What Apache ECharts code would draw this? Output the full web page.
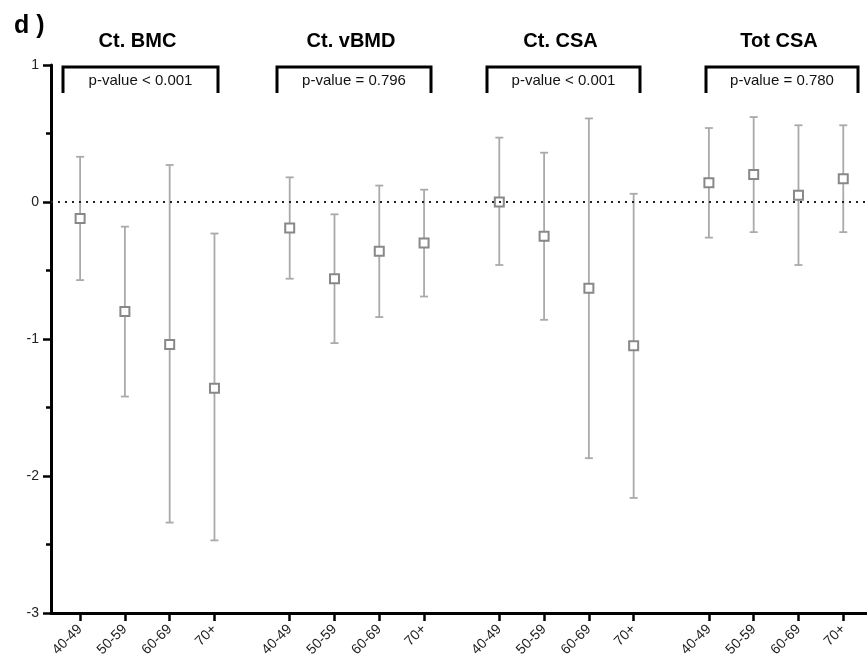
<!DOCTYPE html>
<html>
<head>
<meta charset="utf-8">
<script src="https://cdn.jsdelivr.net/npm/echarts@6/dist/echarts.min.js"></script>
<style>
  html, body { margin: 0; padding: 0; background: #fff; }
  #chart { width: 867px; height: 664px; }
</style>
</head>
<body>
<div id="chart"></div>
<script>
// 年龄组 / 指标
const ages = ["40-49", "50-59", "60-69", "70+"];
const groups = ["Ct. BMC", "Ct. vBMD", "Ct. CSA", "Tot CSA"];
const pValues = ["p-value < 0.001", "p-value = 0.796", "p-value < 0.001", "p-value = 0.780"];

// mean / lower / upper per group
const bmcMean = [-0.12, -0.80, -1.04, -1.36];
const bmcLow = [-0.57, -1.42, -2.34, -2.47];
const bmcHigh = [0.33, -0.18, 0.27, -0.23];

const vbmdMean = [-0.19, -0.56, -0.36, -0.30];
const vbmdLow = [-0.56, -1.03, -0.84, -0.69];
const vbmdHigh = [0.18, -0.09, 0.12, 0.09];

const csaMean = [0.0, -0.25, -0.63, -1.05];
const csaLow = [-0.46, -0.86, -1.87, -2.16];
const csaHigh = [0.47, 0.36, 0.61, 0.06];

const totMean = [0.14, 0.20, 0.05, 0.17];
const totLow = [-0.26, -0.22, -0.46, -0.22];
const totHigh = [0.54, 0.62, 0.56, 0.56];

const yTicks = [-3, -2, -1, 0, 1];

const means = [bmcMean, vbmdMean, csaMean, totMean];
const lows = [bmcLow, vbmdLow, csaLow, totLow];
const highs = [bmcHigh, vbmdHigh, csaHigh, totHigh];

const groupStep = 4.68;
const xPos = [];
const xLabel = {};
const pointData = [];
const barData = [];
groups.forEach(function (g, gi) {
  ages.forEach(function (a, ai) {
    var x = +(gi * groupStep + ai).toFixed(2);
    xPos.push(x);
    xLabel[x.toFixed(2)] = a;
    pointData.push([x, means[gi][ai]]);
    barData.push([x, lows[gi][ai], highs[gi][ai]]);
  });
});

var myChart = echarts.init(document.getElementById("chart"));

const font = "'Liberation Sans', Arial, sans-serif";

// 括号 + 标题
const bracketX = [[63, 218], [277, 431], [487, 640], [706, 858]];
const graphics = [
  {
    type: "text",
    left: 14,
    top: 14,
    style: { text: "d )", font: "bold 25px " + font, fill: "#000" },
  },
];
groups.forEach(function (g, i) {
  var l = bracketX[i][0], r = bracketX[i][1];
  var cx = (l + r) / 2;
  graphics.push({
    type: "polyline",
    shape: { points: [[l, 93], [l, 67], [r, 67], [r, 93]] },
    style: { stroke: "#000", lineWidth: 3, fill: null },
  });
  graphics.push({
    type: "text",
    x: cx - 3,
    y: 41,
    style: { text: g, font: "bold 20px " + font, fill: "#000", align: "center", verticalAlign: "middle" },
  });
  graphics.push({
    type: "text",
    x: cx,
    y: 81,
    style: { text: pValues[i], font: "15px " + font, fill: "#111", align: "center", verticalAlign: "middle" },
  });
});

var option = {
  animation: false,
  grid: { left: 51, right: 0, top: 65, bottom: 51 },
  graphic: graphics,
  xAxis: {
    type: "value",
    min: -0.65,
    max: 17.57,
    splitLine: { show: false },
    axisLine: { onZero: false, lineStyle: { color: "#000", width: 3 } },
    axisTick: { customValues: xPos, length: 8, lineStyle: { color: "#000", width: 2.5 } },
    axisLabel: {
      customValues: xPos,
      rotate: 45,
      margin: 14,
      color: "#222",
      fontSize: 14,
      fontFamily: font,
      formatter: function (v) {
        return xLabel[(+v).toFixed(2)] || "";
      },
    },
  },
  yAxis: {
    type: "value",
    min: -3,
    max: 1,
    interval: 1,
    splitLine: { show: false },
    axisLine: { show: true, onZero: false, lineStyle: { color: "#000", width: 3 } },
    axisTick: { show: true, length: 8, lineStyle: { color: "#000", width: 2.5 } },
    minorTick: { show: true, splitNumber: 2, length: 5, lineStyle: { color: "#000", width: 2.5 } },
    axisLabel: {
      color: "#222",
      fontSize: 14,
      fontFamily: font,
      margin: 12,
      formatter: function (v) {
        return yTicks.indexOf(v) >= 0 ? String(v) : "";
      },
    },
  },
  series: [
    {
      type: "custom",
      name: "error",
      data: barData,
      encode: { x: 0, y: [1, 2] },
      z: 2,
      renderItem: function (params, api) {
        var x = api.value(0);
        var top = api.coord([x, api.value(2)]);
        var bot = api.coord([x, api.value(1)]);
        var cap = 4;
        var st = { stroke: "#aaaaaa", lineWidth: 1.8 };
        return {
          type: "group",
          children: [
            { type: "line", shape: { x1: top[0], y1: top[1], x2: bot[0], y2: bot[1] }, style: st },
            { type: "line", shape: { x1: top[0] - cap, y1: top[1], x2: top[0] + cap, y2: top[1] }, style: st },
            { type: "line", shape: { x1: bot[0] - cap, y1: bot[1], x2: bot[0] + cap, y2: bot[1] }, style: st },
          ],
        };
      },
      markLine: {
        silent: true,
        symbol: "none",
        label: { show: false },
        lineStyle: { color: "#222", width: 2, type: [2, 5] },
        data: [{ yAxis: 0 }],
      },
    },
    {
      type: "scatter",
      name: "mean",
      data: pointData,
      symbol: "rect",
      symbolSize: 9,
      z: 3,
      itemStyle: { color: "#fff", borderColor: "#888", borderWidth: 2, opacity: 1 },
    },
  ],
};

myChart.setOption(option);
</script>
</body>
</html>
